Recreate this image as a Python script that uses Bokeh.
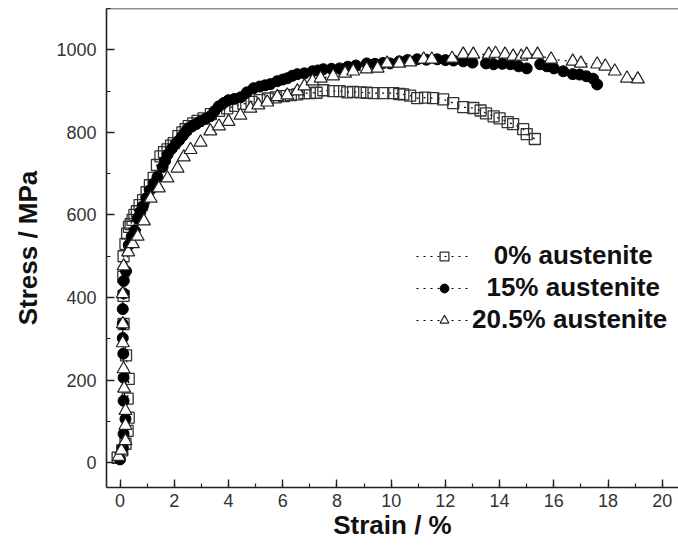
from bokeh.plotting import figure
from bokeh.models import (Range1d, SingleIntervalTicker, Span, Legend, LegendItem)
from bokeh.embed import file_html
from bokeh.resources import INLINE

# ---------------- data ----------------
sq_x = [-0.09, 0.08, 0.20, 0.28, 0.32, 0.28, 0.32, 0.22, 0.13, 0.13, 0.12, 0.13,
        0.20, 0.26, 0.33, 0.39, 0.46, 0.53, 0.62, 0.72, 0.85, 0.98, 1.10, 1.24,
        1.36, 1.49, 1.62, 1.75, 1.88, 1.98, 2.15, 2.30, 2.42, 2.53, 2.70, 2.86,
        3.08, 3.35, 3.65, 3.95, 4.25, 4.55, 4.85, 5.15, 5.45, 5.75, 6.05, 6.30,
        6.54, 6.80, 7.00, 7.25, 7.50, 7.86, 8.10, 8.38, 8.60, 8.86, 9.10, 9.35,
        9.71, 10.08, 10.30, 10.45, 10.70, 10.96, 11.25, 11.55, 11.92, 12.29,
        12.66, 13.03, 13.30, 13.50, 13.78, 14.00, 14.30, 14.50, 14.87, 15.00, 15.30]
sq_y = [12, 30, 46, 77, 109, 155, 203, 260, 336, 404, 450, 500,
        530, 555, 571, 578, 588, 600, 609, 624, 636, 655, 672, 690,
        721, 742, 752, 759, 768, 774, 791, 800, 808, 815, 822, 828,
        834, 844, 852, 858, 864, 869, 874, 878, 882, 885, 888, 890,
        892, 895, 895, 896, 902, 900, 900, 897, 898, 897, 896, 895,
        895, 895, 893, 892, 889, 883, 884, 883, 880, 871,
        861, 859, 853, 846, 839, 834, 825, 820, 808, 796, 784]

ci_x = [0.00, 0.10, 0.13, 0.20, 0.13, 0.13, 0.12, 0.10, 0.10, 0.10,
        0.13, 0.13, 0.22, 0.32, 0.43, 0.54, 0.65, 0.75, 0.84, 0.97,
        1.10, 1.24, 1.38, 1.57, 1.66, 1.75, 1.90, 2.05, 2.18, 2.30,
        2.42, 2.53, 2.68, 2.82, 2.97, 3.15, 3.33, 3.48, 3.64, 3.82,
        4.00, 4.22, 4.45, 4.68, 4.93, 5.15, 5.35, 5.55, 5.80, 6.00,
        6.17, 6.35, 6.54, 6.80, 7.10, 7.30, 7.50, 7.80, 8.10, 8.40,
        8.70, 9.10, 9.40, 9.70, 9.96, 10.30, 10.60, 10.96, 11.30, 11.70,
        12.00, 12.30, 12.66, 13.00, 13.50, 13.78, 14.10, 14.40, 14.70, 15.00,
        15.50, 15.75, 16.00, 16.35, 16.70, 16.95, 17.20, 17.45, 17.60]
ci_y = [8, 36, 70, 106, 150, 206, 264, 302, 336, 372,
        410, 440, 464, 527, 548, 562, 592, 608, 621, 641,
        660, 676, 692, 716, 731, 746, 760, 772, 781, 791,
        801, 810, 816, 821, 827, 833, 839, 851, 863, 871,
        878, 881, 885, 897, 907, 911, 914, 917, 924, 928,
        931, 937, 941, 943, 948, 950, 953, 954, 955, 959,
        962, 967, 966, 968, 967, 972, 975, 977, 976, 977,
        975, 974, 972, 969, 967, 965, 966, 965, 960, 955,
        965, 960, 955, 948, 941, 940, 936, 930, 916]

tr_x = [-0.05, 0.05, 0.20, 0.20, 0.20, 0.15, 0.13, 0.10, 0.10, 0.10, 0.13,
        0.30, 0.47, 0.65, 0.88, 1.13, 1.43, 1.75, 2.12, 2.35, 2.60, 2.97,
        3.33, 3.65, 4.00, 4.44, 4.81, 5.10, 5.43, 5.80, 6.17, 6.54, 6.80,
        7.10, 7.40, 7.86, 8.30, 8.60, 9.10, 9.50, 9.85, 10.30, 10.70, 11.20,
        11.50, 12.25, 12.66, 13.03, 13.60, 13.85, 14.20, 14.50, 14.80, 15.00,
        15.40, 15.90, 16.70, 17.00, 17.60, 17.90, 18.25, 18.70, 19.10]
tr_y = [15, 30, 53, 90, 126, 180, 227, 290, 336, 409, 476,
        510, 530, 548, 585, 640, 665, 689, 713, 740, 758, 776,
        803, 815, 826, 841, 858, 866, 873, 886, 890, 900, 912,
        924, 931, 936, 943, 948, 953, 955, 967, 967, 970, 977,
        977, 979, 989, 989, 989, 991, 989, 984, 984, 989,
        989, 977, 972, 967, 965, 960, 948, 931, 929]

labels = ["0% austenite", "15% austenite", "20.5% austenite"]
x_ticks_interval = 2
y_ticks_interval = 200

FONT = "Liberation Sans"

p = figure(width=678, height=546, output_backend="svg", toolbar_location=None,
           x_range=Range1d(-0.5, 20.6), y_range=Range1d(-60, 1100),
           min_border_left=106, min_border_right=0, min_border_top=8,
           min_border_bottom=59)
p.outline_line_color = None
p.xgrid.visible = False
p.ygrid.visible = False
p.background_fill_color = "white"
p.border_fill_color = "white"

p.xaxis.ticker = SingleIntervalTicker(interval=x_ticks_interval, num_minor_ticks=2)
p.yaxis.ticker = SingleIntervalTicker(interval=y_ticks_interval, num_minor_ticks=2)
p.xaxis.axis_label = "Strain / %"
p.yaxis.axis_label = "Stress / MPa"
for ax in (p.xaxis, p.yaxis):
    ax.axis_line_width = 1.6
    ax.axis_line_color = "#222222"
    ax.major_tick_line_color = "#222222"
    ax.minor_tick_line_color = "#222222"
    ax.major_tick_line_width = 1.4
    ax.minor_tick_line_width = 1.2
    ax.major_tick_in = 8
    ax.major_tick_out = 0
    ax.minor_tick_in = 4
    ax.minor_tick_out = 0
    ax.major_label_text_font = FONT
    ax.major_label_text_font_size = "18px"
    ax.major_label_text_color = "#333333"
    ax.axis_label_text_font = FONT
    ax.axis_label_text_font_size = "26px"
    ax.axis_label_text_font_style = "bold"
    ax.axis_label_text_color = "#111111"
p.xaxis.major_label_standoff = 6
p.yaxis.major_label_standoff = 10
p.xaxis.axis_label_standoff = 0
p.yaxis.axis_label_standoff = 10

p.add_layout(Span(location=1100, dimension="width", line_color="#222222", line_width=1.6))

dash = "2 5"
l0 = p.line(sq_x, sq_y, line_color="black", line_width=1.2, line_dash=dash)
l1 = p.line(ci_x, ci_y, line_color="black", line_width=1.2, line_dash=dash)
l2 = p.line(tr_x, tr_y, line_color="black", line_width=1.2, line_dash=dash)
s0 = p.scatter(sq_x, sq_y, marker="square", size=11, fill_color=None,
               line_color="#333333", line_width=1.3)
s1 = p.scatter(ci_x, ci_y, marker="circle", size=11, fill_color="black",
               line_color="black")
s2 = p.scatter(tr_x, tr_y, marker="triangle", size=13, fill_color="white",
               line_color="#222222", line_width=1.2)

nb = "\u00a0"
legend = Legend(items=[
    LegendItem(label=nb * 3 + labels[0], renderers=[l0, s0]),
    LegendItem(label=nb * 2 + labels[1], renderers=[l1, s1]),
    LegendItem(label=labels[2], renderers=[l2, s2]),
], location=(310, 152), glyph_width=56, glyph_height=22, label_height=22,
    spacing=1, padding=0, margin=0, border_line_color=None,
    background_fill_alpha=0, label_text_font=FONT, label_text_font_style="bold",
    label_text_font_size="26px", label_standoff=0, label_text_color="#111111")
p.add_layout(legend)

open("out.html", "w").write(file_html(p, INLINE))
